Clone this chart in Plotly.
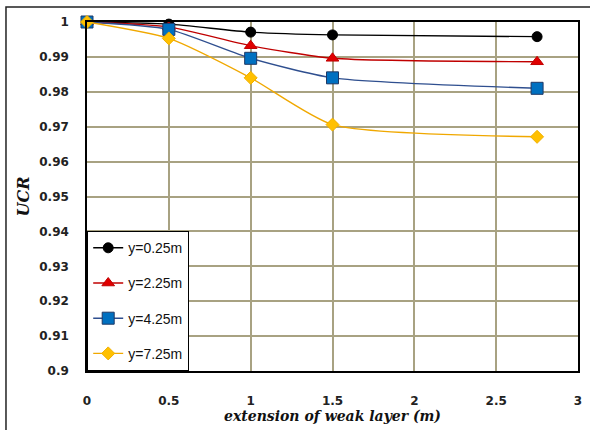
import plotly.graph_objects as go

# Extension of the weak layer (m)
extension = [0, 0.5, 1, 1.5, 2.75]

# UCR for each depth y
ucr_y025 = [1.0, 0.9994, 0.9971, 0.9963, 0.9958]
ucr_y225 = [1.0, 0.9986, 0.9932, 0.9896, 0.9886]
ucr_y425 = [1.0, 0.9979, 0.9896, 0.9840, 0.9810]
ucr_y725 = [1.0, 0.9953, 0.9840, 0.9706, 0.9671]

series_names = ["y=0.25m", "y=2.25m", "y=4.25m", "y=7.25m"]

y_ticks = [0.9, 0.91, 0.92, 0.93, 0.94, 0.95, 0.96, 0.97, 0.98, 0.99, 1]
y_tick_text = ["0.9", "0.91", "0.92", "0.93", "0.94", "0.95", "0.96", "0.97", "0.98", "0.99", "1"]
x_ticks = [0, 0.5, 1, 1.5, 2, 2.5, 3]
x_tick_text = ["0", "0.5", "1", "1.5", "2", "2.5", "3"]

styles = [
    dict(line="#000000", fill="#000000", edge="#000000", symbol="circle", size=10),
    dict(line="#c00000", fill="#e00000", edge="#c00000", symbol="triangle-up", size=11),
    dict(line="#2f4f8f", fill="#0070c0", edge="#1f3864", symbol="square", size=12),
    dict(line="#f0a800", fill="#ffc000", edge="#f0b000", symbol="diamond", size=10),
]

fig = go.Figure()
for name, vals, st in zip(series_names, [ucr_y025, ucr_y225, ucr_y425, ucr_y725], styles):
    fig.add_trace(go.Scatter(
        x=extension, y=vals, name=name, mode="lines+markers", legendgroup=name,
        line=dict(color=st["line"], width=1.4, shape="spline", smoothing=0.6),
        marker=dict(symbol=st["symbol"], size=st["size"], color=st["fill"],
                    line=dict(color=st["edge"], width=1)),
        cliponaxis=False,
    ))

grid_col = "#a8a282"
tick_font = dict(family="DejaVu Sans", size=12, color="#222222", weight="bold")
title_font = dict(family="DejaVu Serif", size=14, color="#111111", style="italic", weight="bold")

fig.update_xaxes(
    range=[0, 3], tickvals=x_ticks, ticktext=x_tick_text,
    showgrid=True, gridcolor=grid_col, gridwidth=1.5,
    showline=True, linecolor="#000000", linewidth=1.5, mirror=True,
    zeroline=False, ticks="", tickfont=tick_font, ticklabelstandoff=18,
    automargin=False,
    title=dict(text="extension of weak layer (m)", font=title_font, standoff=2),
)
fig.update_yaxes(
    range=[0.9, 1.0], tickvals=y_ticks, ticktext=y_tick_text,
    showgrid=True, gridcolor=grid_col, gridwidth=1.5,
    showline=True, linecolor="#000000", linewidth=1.5, mirror=True,
    zeroline=False, ticks="", tickfont=tick_font, ticklabelstandoff=14,
    automargin=False,
    title=dict(text="UCR", font=dict(family="DejaVu Serif", size=16, color="#111111",
                                      style="italic", weight="bold"), standoff=6),
)

# Outer frame around the whole chart
fig.add_shape(type="rect", xref="paper", yref="paper",
              x0=-0.165, y0=-0.3, x1=1.1, y1=1.043,
              line=dict(color="#222222", width=1.5), layer="below")

fig.update_layout(
    width=590, height=430,
    margin=dict(l=87, r=12, t=22, b=59),
    paper_bgcolor="white", plot_bgcolor="white",
    legend=dict(
        x=0, y=0, xanchor="left", yanchor="bottom",
        bgcolor="white", bordercolor="#000000", borderwidth=1.2,
        font=dict(family="Liberation Sans", size=14, color="#111111"),
        traceorder="grouped", tracegroupgap=14, itemwidth=30,
    ),
)

fig.write_html("out.html")
